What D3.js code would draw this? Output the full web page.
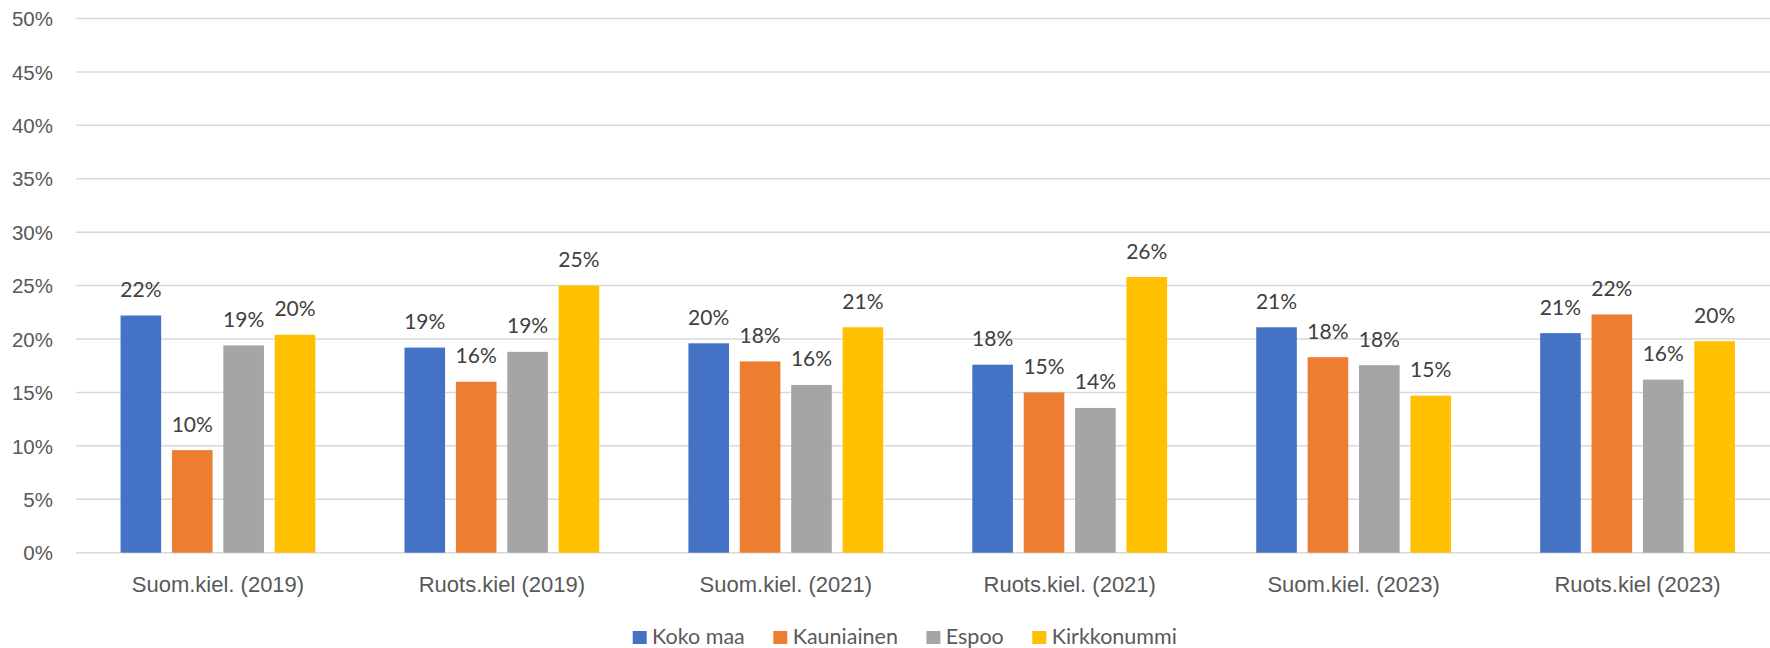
<!DOCTYPE html>
<html>
<head>
<meta charset="utf-8">
<script src="https://cdn.jsdelivr.net/npm/d3@7"></script>
<style>
  body { margin: 0; background: #fff; }
  svg { display: block; font-family: Lato, "Open Sans", sans-serif; }
</style>
</head>
<body>
<div id="chart"></div>
<script>
// chart data
var categories = ["Suom.kiel. (2019)", "Ruots.kiel (2019)", "Suom.kiel. (2021)", "Ruots.kiel. (2021)", "Suom.kiel. (2023)", "Ruots.kiel (2023)"]
var seriesNames = ["Koko maa", "Kauniainen", "Espoo", "Kirkkonummi"]
var kokoMaa = [0.222, 0.192, 0.196, 0.176, 0.211, 0.2055]
var kauniainen = [0.096, 0.160, 0.179, 0.150, 0.183, 0.223]
var espoo = [0.194, 0.188, 0.157, 0.1355, 0.1755, 0.162]
var kirkkonummi = [0.204, 0.250, 0.211, 0.258, 0.147, 0.198]
var yTicks = [0, 0.05, 0.1, 0.15, 0.2, 0.25, 0.3, 0.35, 0.4, 0.45, 0.5]
var colors = ["#4472C4", "#ED7D31", "#A5A5A5", "#FFC000"]

var seriesValues = [kokoMaa, kauniainen, espoo, kirkkonummi]

var W = 1770, H = 648
var plot = {left: 76, right: 1779.5, top: 18.5, bottom: 552.7}

var svg = d3.select("#chart").append("svg")
    .attr("width", W)
    .attr("height", H)

var x0 = d3.scaleBand()
    .domain(categories)
    .range([plot.left, plot.right])
    .padding(0)

var cw = x0.bandwidth()
var x1 = d3.scaleBand()
    .domain(seriesNames)
    .range([cw * 0.157, cw * 0.843])
    .paddingInner(0.21)
    .paddingOuter(0)

var y = d3.scaleLinear()
    .domain([0, 0.5])
    .range([plot.bottom, plot.top])

var fmt = d3.format(".0%")

// gridlines
svg.append("g")
    .selectAll("line")
    .data(yTicks)
    .enter().append("line")
    .attr("x1", plot.left)
    .attr("x2", plot.right)
    .attr("y1", function(d) { return y(d) })
    .attr("y2", function(d) { return y(d) })
    .attr("stroke", "#d9d9d9")
    .attr("stroke-width", 1.5)

// y axis labels
var yAxis = d3.axisLeft(y).tickValues(yTicks).tickFormat(fmt).tickSize(0).tickPadding(0)
var yg = svg.append("g")
    .attr("transform", "translate(53,0)")
    .call(yAxis)
yg.select(".domain").remove()
yg.selectAll("text")
    .attr("fill", "#595959")
    .style("font-size", "20.5px")
    .attr("dy", "0.35em")

// x axis labels
var xAxis = d3.axisBottom(x0).tickSize(0).tickPadding(0)
var xg = svg.append("g")
    .call(xAxis)
xg.select(".domain").remove()
xg.selectAll("text")
    .attr("y", 592)
    .attr("dy", 0)
    .attr("fill", "#595959")
    .style("font-size", "22px")

// bars
var rows = categories.map(function(c, i) {
  return {cat: c, vals: seriesNames.map(function(s, j) {
    return {name: s, value: seriesValues[j][i], color: colors[j]}
  })}
})

var groups = svg.selectAll("g.group")
    .data(rows)
    .enter().append("g")
    .attr("class", "group")
    .attr("transform", function(d) { return "translate(" + x0(d.cat) + ",0)" })

groups.selectAll("rect")
    .data(function(d) { return d.vals })
    .enter().append("rect")
    .attr("x", function(d) { return x1(d.name) })
    .attr("y", function(d) { return y(d.value) })
    .attr("width", x1.bandwidth())
    .attr("height", function(d) { return y(0) - y(d.value) })
    .attr("fill", function(d) { return d.color })

// data labels
groups.selectAll("text.lbl")
    .data(function(d) { return d.vals })
    .enter().append("text")
    .attr("class", "lbl")
    .attr("x", function(d) { return x1(d.name) + x1.bandwidth() / 2 })
    .attr("y", function(d) { return y(d.value) - 18.5 })
    .attr("text-anchor", "middle")
    .attr("fill", "#404040")
    .style("font-size", "21px")
    .text(function(d) { return fmt(d.value) })

// legend
var legend = svg.append("g")
var lx = 0
seriesNames.forEach(function(s, i) {
  var item = legend.append("g").attr("transform", "translate(" + lx + ",0)")
  item.append("rect")
      .attr("x", 0)
      .attr("y", 631)
      .attr("width", 14)
      .attr("height", 13)
      .attr("fill", colors[i])
  var t = item.append("text")
      .attr("x", 19.4)
      .attr("y", 643.5)
      .attr("fill", "#595959")
      .style("font-size", "21.5px")
      .text(s)
  lx += 19.4 + t.node().getComputedTextLength() + 28.5
})
var legendWidth = lx - 28.5
legend.attr("transform", "translate(" + (904.8 - legendWidth / 2) + ",0)")
</script>
</body>
</html>
